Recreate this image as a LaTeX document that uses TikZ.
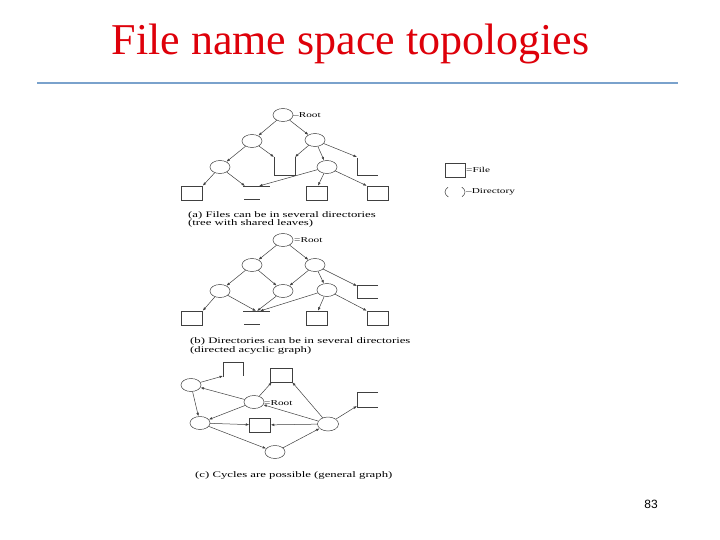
\documentclass[tikz,border=0pt]{standalone}
\usepackage{fontspec}
\setmainfont{Liberation Serif}
\newfontfamily\pnfont{Liberation Sans}
\newfontfamily\capfont[FakeStretch=1.5]{Liberation Serif}
\usetikzlibrary{shapes.geometric,arrows.meta}
\definecolor{titlered}{RGB}{222,0,10}
\definecolor{rulecol}{RGB}{122,162,204}
\begin{document}
\begin{tikzpicture}[x=1pt,y=-1pt,
 dir/.style={ellipse,draw=black!75,line width=0.5pt,minimum width=20pt,minimum height=13pt,inner sep=0pt},
 filebox/.style={rectangle,draw=black!75,line width=0.5pt,minimum width=21pt,minimum height=14pt,inner sep=0pt},
 edge/.style={draw=black!75,line width=0.5pt,-{Latex[length=3.5pt,width=2.6pt]}},
 openbox/.style={draw=black!75,line width=0.5pt},
 captxt/.style={font=\capfont\fontsize{8.5}{9}\selectfont,anchor=west,inner sep=0pt},
 lbl/.style={font=\capfont\fontsize{7.5}{9}\selectfont,anchor=west,inner sep=0pt}]
\useasboundingbox (0,0) rectangle (720,540);
\fill[white] (0,0) rectangle (720,540);
% title
\node[text=titlered,font=\fontsize{44}{50}\selectfont,inner sep=0pt,anchor=base] (title) at (350.5,55) {File name space topologies};
\coordinate (ruleL) at (37,83);
\coordinate (ruleR) at (678,83);
\draw[line width=1.5pt,color=rulecol] (ruleL) -- (ruleR);
\node[font=\pnfont\fontsize{12}{14}\selectfont,inner sep=0pt] (pnum) at (651,504) {83};

% ---------- (a) ----------
\node[dir] (ra) at (283,115) {};
\node[lbl] (ralbl) at (293,115) {–Root};
\node[dir] (a2l) at (252,141) {};
\node[dir] (a2r) at (315,140) {};
\node[dir] (a3l) at (220,167) {};
\node[dir] (a3r) at (327,167) {};
\coordinate (aUl) at (274,157);
\coordinate (aUr) at (295,157);
\draw[openbox] (aUl) -- (274,175) -- (295,175) -- (aUr);
\coordinate (aRo) at (357,158);
\draw[openbox] (aRo) -- (357,175) -- (378,175);
\node[filebox] (a1) at (192,193) {};
\coordinate (aSh) at (243,186);
\draw[openbox] (aSh) -- (270,186);
\draw[openbox] (244,199) -- (260,199);
\node[filebox] (a3) at (317,193) {};
\node[filebox] (a4) at (377.5,193) {};
\path[edge] (ra) -- (a2l);
\path[edge] (ra) -- (a2r);
\path[edge] (a2l) -- (a3l);
\path[edge] (a2l) -- (aUl);
\path[edge] (a2r) -- (aUr);
\path[edge] (a2r) -- (a3r);
\path[edge] (a2r) -- ([yshift=1pt]aRo);
\path[edge] (a3l) -- (a1.north east);
\path[edge] (a3l) -- ([xshift=2pt]aSh);
\path[edge] (a3r) -- ([xshift=16pt]aSh);
\path[edge] (a3r) -- ([xshift=1pt]a3.north);
\path[edge] (a3r) -- (a4.north west);
\node[captxt] (capa1) at (188,215) {(a) Files can be in several directories};
\node[captxt] (capa2) at (188,223) {(tree with shared leaves)};

% legend
\node[filebox,minimum width=20pt] (lf) at (455,170) {};
\node[lbl] (lfl) at (466,170) {=File};
\node[dir,dash pattern=on 12pt off 14.2pt,dash phase=6pt] (ld) at (455,192) {};
\node[lbl] (ldl) at (466,192) {–Directory};

% ---------- (b) ----------
\node[dir] (rb) at (283,240) {};
\node[lbl] (rblbl) at (294,240) {=Root};
\node[dir] (b2l) at (252,265) {};
\node[dir] (b2r) at (315,265) {};
\node[dir] (b3l) at (220,291) {};
\node[dir] (b3m) at (283,291) {};
\node[dir] (b3r) at (327,290) {};
\coordinate (bRo) at (357,286);
\draw[openbox] (378,285) -- (357,285) -- (357,298) -- (378,298);
\node[filebox] (b1) at (192,318) {};
\coordinate (bSh) at (243,311);
\draw[openbox] (bSh) -- (270,311);
\draw[openbox] (244,324) -- (260,324);
\node[filebox] (b3) at (317,318) {};
\node[filebox] (b4) at (377.5,318) {};
\path[edge] (rb) -- (b2l);
\path[edge] (rb) -- (b2r);
\path[edge] (b2l) -- (b3l);
\path[edge] (b2l) -- (b3m);
\path[edge] (b2r) -- (b3m);
\path[edge] (b2r) -- (b3r);
\path[edge] (b2r) -- (bRo);
\path[edge] (b3l) -- (b1.north east);
\path[edge] (b3l) -- ([xshift=13pt]bSh);
\path[edge] (b3m) -- ([xshift=14pt]bSh);
\path[edge] (b3r) -- ([xshift=17pt]bSh);
\path[edge] (b3r) -- ([xshift=1pt]b3.north);
\path[edge] (b3r) -- (b4.north west);
\node[captxt] (capb1) at (190,341) {(b) Directories can be in several directories};
\node[captxt] (capb2) at (190,350) {(directed acyclic graph)};

% ---------- (c) ----------
\node[dir] (cA) at (191,385) {};
\coordinate (cTL) at (223,376);
\draw[openbox] (223,377) -- (223,362) -- (243,362) -- (243,376);
\node[filebox,minimum width=22pt] (cTM) at (281,375) {};
\node[dir] (cR) at (254,402) {};
\node[lbl] (crlbl) at (264,403) {=Root};
\node[dir] (cB) at (200,423) {};
\node[filebox] (cM) at (260,425) {};
\node[dir,minimum width=21pt,minimum height=14pt] (cC) at (328,424) {};
\coordinate (cRo) at (357,406);
\draw[openbox] (378,392) -- (357,392) -- (357,407) -- (378,407);
\node[dir] (cD) at (275,452) {};
\path[edge] (cA) -- (cTL);
\path[edge] (cR) -- (cA);
\path[edge] (cA) -- (cB);
\path[edge] (cR) -- (cB);
\path[edge] (cR) -- ([xshift=2pt]cTM.south west);
\path[edge] (cC) -- (cTM.south east);
\path[edge] (cC) -- (cR);
\path[edge] (cC) -- (cRo);
\path[edge] (cB) -- (cM);
\path[edge] (cC) -- (cM);
\path[edge] (cB) -- (cD);
\path[edge] (cD) -- (cC);
\node[captxt] (capc) at (195,475) {(c) Cycles are possible (general graph)};
\end{tikzpicture}
\end{document}
